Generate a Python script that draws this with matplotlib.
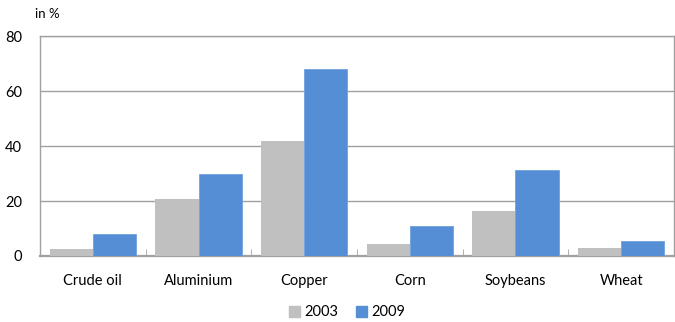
import numpy as np
import matplotlib
matplotlib.use("Agg")
import matplotlib.pyplot as plt
from matplotlib.patches import Patch

# Price change by commodity, in %
commodities = ["Crude oil", "Aluminium", "Copper", "Corn", "Soybeans", "Wheat"]
years = ["2003", "2009"]
values_2003 = [2.7, 20.8, 41.8, 4.4, 16.4, 3.0]
values_2009 = [8.0, 30.0, 67.9, 10.9, 31.4, 5.5]

grey = "#C0C0C0"
blue = "#558ED5"
frame = "#A0A0A0"

plt.rcParams["font.family"] = ["Lato", "DejaVu Sans"]

fig = plt.figure(figsize=(6.75, 3.22), dpi=100)
ax = fig.add_axes([0.0593, 0.205, 0.9392, 0.683])

x = np.arange(len(commodities))
w = 0.41
ax.bar(x - w / 2, values_2003, width=w, color=grey, zorder=3)
ax.bar(x + w / 2, values_2009, width=w, color=blue, edgecolor="#6FA0DC",
       linewidth=0.6, zorder=3)

ax.set_xlim(-0.5, len(commodities) - 0.5)
ax.set_ylim(0, 80)
ax.set_yticks([0, 20, 40, 60, 80])
ax.yaxis.grid(True, color=frame, linewidth=1.0, zorder=0)
ax.set_axisbelow(True)

# category ticks sit between groups
ax.set_xticks(x)
ax.set_xticklabels(commodities, fontsize=10.5)
ax.set_xticks(np.arange(-0.5, len(commodities)), minor=True)
ax.tick_params(axis="x", which="major", length=0, pad=13)
ax.tick_params(axis="x", which="minor", length=5, direction="in", color=frame)
ax.tick_params(axis="y", length=0, pad=13, labelsize=10.5)

for s in ax.spines.values():
    s.set_color(frame)
    s.set_linewidth(1.0)
ax.spines["bottom"].set_linewidth(1.6)

fig.text(0.052, 0.955, "in %", fontsize=9.5, ha="left", va="center")

handles = [Patch(color=grey), Patch(color=blue)]
fig.legend(handles, years, loc="center", bbox_to_anchor=(0.514, 0.03),
           ncol=2, frameon=False, fontsize=10.5, handlelength=0.75,
           handleheight=0.75, handletextpad=0.3, columnspacing=1.2)

fig.savefig("out.png", dpi=100, facecolor="white")
